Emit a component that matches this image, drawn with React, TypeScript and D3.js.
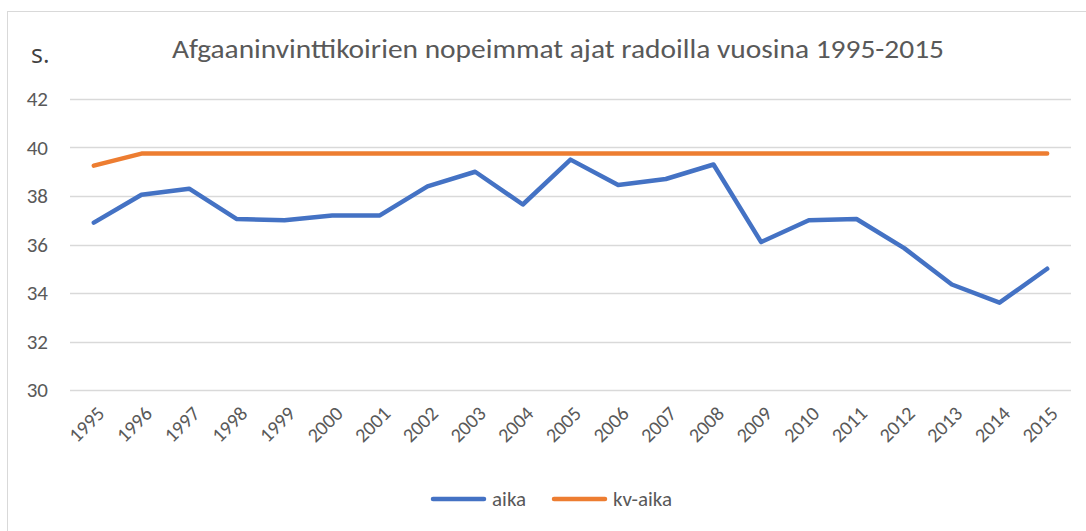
import React, { useRef, useEffect } from 'react';
import * as d3 from 'd3';

const YEARS = [
  '1995', '1996', '1997', '1998', '1999', '2000', '2001', '2002', '2003', '2004', '2005',
  '2006', '2007', '2008', '2009', '2010', '2011', '2012', '2013', '2014', '2015',
];

const AIKA = [
  36.9, 38.05, 38.3, 37.05, 37.0, 37.2, 37.2, 38.4, 39.0, 37.65, 39.5,
  38.45, 38.7, 39.3, 36.1, 37.0, 37.05, 35.85, 34.35, 33.6, 35.0,
];

const KV_AIKA = [
  39.25, 39.75, 39.75, 39.75, 39.75, 39.75, 39.75, 39.75, 39.75, 39.75, 39.75,
  39.75, 39.75, 39.75, 39.75, 39.75, 39.75, 39.75, 39.75, 39.75, 39.75,
];

const Y_TICKS = [30, 32, 34, 36, 38, 40, 42];

const SERIES = [
  { name: 'aika', values: AIKA, color: '#4472C4' },
  { name: 'kv-aika', values: KV_AIKA, color: '#ED7D31' },
];

const TITLE = 'Afgaaninvinttikoirien nopeimmat ajat radoilla vuosina 1995-2015';
const FONT = 'Carlito, Calibri, Lato, sans-serif';
const TEXT_COLOR = '#595959';

const W = 1086;
const H = 531;

const LineChart: React.FC = () => {
  const svgRef = useRef<SVGSVGElement>(null);

  useEffect(() => {
    if (!svgRef.current) return;
    const root = d3.select(svgRef.current);
    root.selectAll('*').remove();

    const margin = { top: 99, right: 15, bottom: 141, left: 70 };
    const width = W - margin.left - margin.right;
    const height = H - margin.top - margin.bottom;

    // chart border
    root
      .append('rect')
      .attr('x', 7.5)
      .attr('y', 11.5)
      .attr('width', W)
      .attr('height', H)
      .attr('fill', 'none')
      .attr('stroke', '#d9d9d9');

    root
      .append('text')
      .attr('x', 558)
      .attr('y', 58)
      .attr('text-anchor', 'middle')
      .attr('fill', TEXT_COLOR)
      .attr('textLength', 772)
      .attr('lengthAdjust', 'spacingAndGlyphs')
      .style('font-family', FONT)
      .style('font-size', '26px')
      .text(TITLE);

    root
      .append('text')
      .attr('x', 31)
      .attr('y', 63)
      .attr('fill', '#404040')
      .style('font-family', '"Open Sans", sans-serif')
      .style('font-size', '25px')
      .style('font-weight', '400')
      .text('s.');

    const svg = root.append('g').attr('transform', `translate(${margin.left}, ${margin.top})`);

    const xScale = d3.scaleBand().domain(YEARS).range([0, width]);
    const yScale = d3.scaleLinear().domain([30, 42]).range([height, 0]);
    const xc = (d: string) => (xScale(d) || 0) + xScale.bandwidth() / 2;

    // gridlines
    svg
      .selectAll('.grid')
      .data(Y_TICKS)
      .enter()
      .append('line')
      .attr('x1', 0)
      .attr('x2', width)
      .attr('y1', (d) => Math.round(yScale(d)) + 0.5)
      .attr('y2', (d) => Math.round(yScale(d)) + 0.5)
      .attr('stroke', '#d9d9d9')
      .attr('stroke-width', 1.5);

    // y labels
    svg
      .selectAll('.ylabel')
      .data(Y_TICKS)
      .enter()
      .append('text')
      .attr('x', -22)
      .attr('y', (d) => yScale(d))
      .attr('dy', '0.35em')
      .attr('text-anchor', 'end')
      .attr('fill', TEXT_COLOR)
      .style('font-family', FONT)
      .style('font-size', '21px')
      .text((d) => d);

    // x labels
    svg
      .selectAll('.xlabel')
      .data(YEARS)
      .enter()
      .append('text')
      .attr('transform', (d) => `translate(${xc(d) + 7}, ${height + 20}) rotate(-45)`)
      .attr('text-anchor', 'end')
      .attr('dy', '0.35em')
      .attr('fill', TEXT_COLOR)
      .style('font-family', FONT)
      .style('font-size', '20px')
      .text((d) => d);

    const line = d3
      .line<number>()
      .x((_, i) => xc(YEARS[i]))
      .y((d) => yScale(d));

    SERIES.forEach((s) => {
      svg
        .append('path')
        .datum(s.values)
        .attr('d', line)
        .attr('fill', 'none')
        .attr('stroke', s.color)
        .attr('stroke-width', 4.5)
        .attr('stroke-linecap', 'round')
        .attr('stroke-linejoin', 'round');
    });

    // legend
    const legend = root.append('g').attr('transform', 'translate(433, 499)');
    const offsets = [0, 121];
    SERIES.forEach((s, i) => {
      const g = legend.append('g').attr('transform', `translate(${offsets[i]}, 0)`);
      g.append('line')
        .attr('x1', 0)
        .attr('x2', 51)
        .attr('stroke', s.color)
        .attr('stroke-width', 4.5)
        .attr('stroke-linecap', 'round');
      g.append('text')
        .attr('x', 59)
        .attr('dy', '0.35em')
        .attr('fill', TEXT_COLOR)
        .style('font-family', FONT)
        .style('font-size', '21px')
        .text(s.name);
    });
  }, []);

  return <svg ref={svgRef} width={W} height={H} style={{ display: 'block' }} />;
};

export default function App() {
  useEffect(() => {
    document.body.style.margin = '0';
  }, []);
  return <LineChart />;
}
